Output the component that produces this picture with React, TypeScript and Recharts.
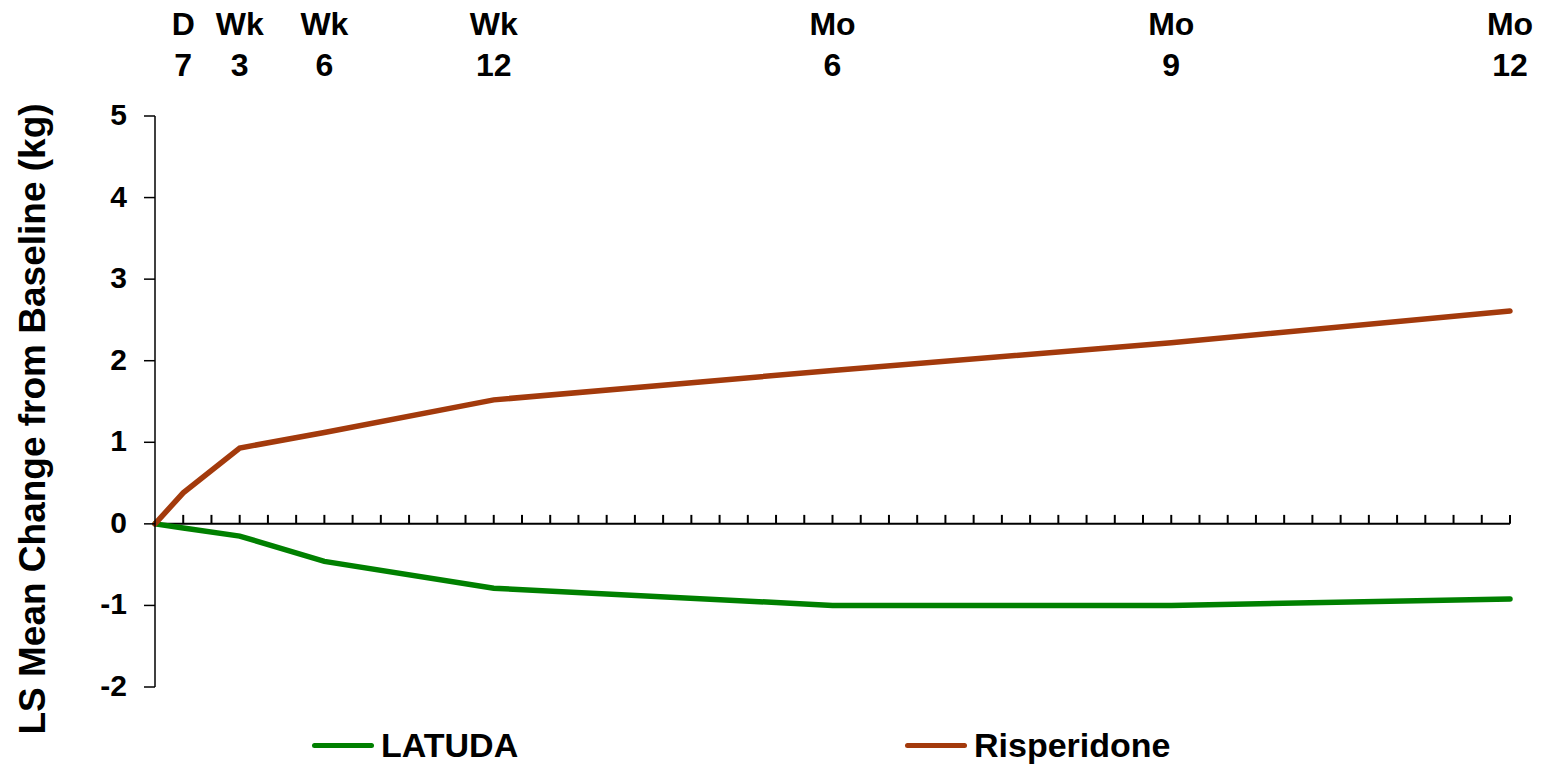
import { Line, LineChart, ReferenceLine, XAxis, YAxis } from "recharts";

// visit time in weeks from baseline
const weeks = [0, 1, 3, 6, 12, 24, 36, 48];
const latuda = [0, -0.05, -0.15, -0.46, -0.79, -1.0, -1.0, -0.92];
const risperidone = [0, 0.38, 0.93, 1.12, 1.52, 1.88, 2.22, 2.61];

const visitTicks = [1, 3, 6, 12, 24, 36, 48];
const visitUnits = ["D", "Wk", "Wk", "Wk", "Mo", "Mo", "Mo"];
const visitNumbers = ["7", "3", "6", "12", "6", "9", "12"];
const yTicks = [-2, -1, 0, 1, 2, 3, 4, 5];
const weekMarks = Array.from({ length: 48 }, (_, i) => i + 1);

const series = [
  { key: "latuda", name: "LATUDA", color: "#008000" },
  { key: "risperidone", name: "Risperidone", color: "#a33a0c" },
];

const data = weeks.map((w, i) => ({ week: w, latuda: latuda[i], risperidone: risperidone[i] }));

const font = "'Liberation Sans', Arial, sans-serif";

function VisitTick({ x, payload }: any) {
  const i = visitTicks.indexOf(payload.value);
  return (
    <g fontFamily={font} fontWeight="bold" fontSize={32} fill="#000">
      <text x={x} y={35} textAnchor="middle">
        {visitUnits[i]}
      </text>
      <text x={x} y={76} textAnchor="middle">
        {visitNumbers[i]}
      </text>
    </g>
  );
}

function ValueTick({ x, y, payload }: any) {
  return (
    <text x={x} y={y} dy={9} textAnchor="end" fontFamily={font} fontWeight="bold" fontSize={30} fill="#000">
      {payload.value}
    </text>
  );
}

export default function App() {
  return (
    <div style={{ position: "relative", width: 1540, height: 764, marginTop: -8 }}>
      <LineChart width={1540} height={764} data={data} margin={{ top: 8, right: 38, bottom: 77, left: 0 }}>
        <XAxis
          dataKey="week"
          type="number"
          orientation="top"
          domain={[0, 48]}
          ticks={visitTicks}
          height={108}
          axisLine={false}
          tickLine={false}
          tick={<VisitTick />}
          interval={0}
        />
        <YAxis
          type="number"
          domain={[-2, 5]}
          ticks={yTicks}
          width={147}
          tickSize={11}
          tickMargin={17}
          axisLine={{ stroke: "#000", strokeWidth: 1.5 }}
          tickLine={{ stroke: "#000", strokeWidth: 1.5 }}
          tick={<ValueTick />}
          interval={0}
        />
        <ReferenceLine y={0} stroke="#000" strokeWidth={2} />
        {weekMarks.map((w) => (
          <ReferenceLine
            key={w}
            segment={[
              { x: w, y: 0 },
              { x: w, y: 0.11 },
            ]}
            stroke="#000"
            strokeWidth={2}
          />
        ))}
        {series.map((s) => (
          <Line
            key={s.key}
            dataKey={s.key}
            name={s.name}
            stroke={s.color}
            strokeWidth={5.5}
            strokeLinecap="round"
            dot={false}
            isAnimationActive={false}
          />
        ))}
        <text
          x={37}
          y={419}
          transform="rotate(-90, 37, 419)"
          textAnchor="middle"
          fontFamily={font}
          fontWeight="bold"
          fontSize={37}
          fill="#000"
        >
          LS Mean Change from Baseline (kg)
        </text>
      </LineChart>
      {series.map((s, i) => (
        <div
          key={s.key}
          style={{
            position: "absolute",
            left: i === 0 ? 304 : 897,
            top: 725,
            height: 40,
            display: "flex",
            alignItems: "center",
            fontFamily: font,
            fontWeight: "bold",
            fontSize: 34,
            color: "#000",
          }}
        >
          <span
            style={{ display: "inline-block", width: 62, height: 5, borderRadius: 3, background: s.color, marginRight: 7 }}
          />
          {s.name}
        </div>
      ))}
    </div>
  );
}
